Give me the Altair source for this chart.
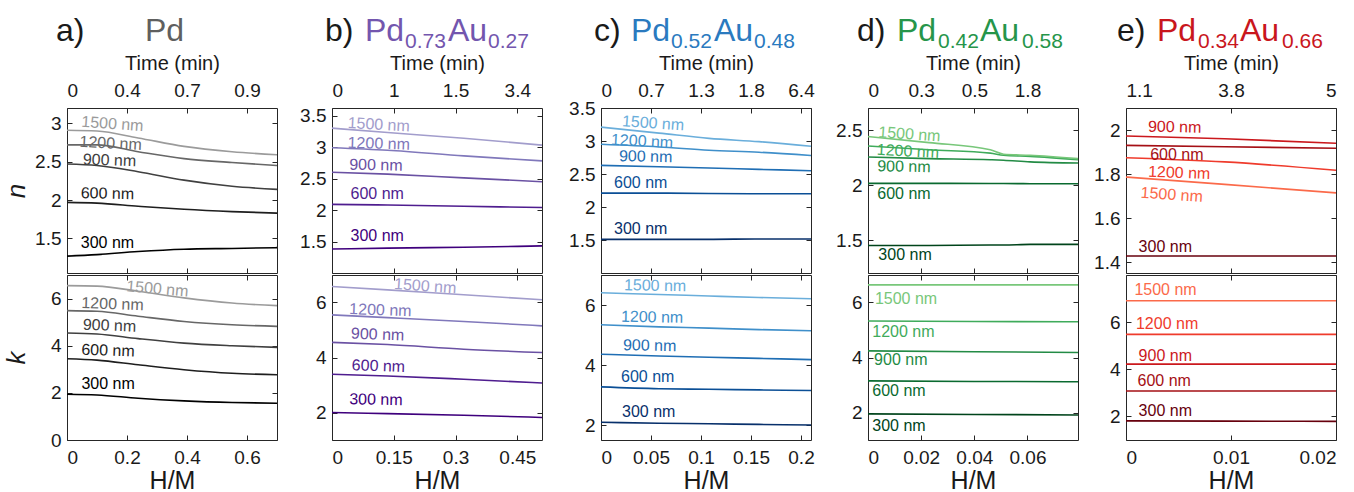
import json
import altair as alt
import pandas as pd

FONT = "Liberation Sans"
INK = "#1a1a1a"
WAVELENGTHS = ["300 nm", "600 nm", "900 nm", "1200 nm", "1500 nm"]
PANELS = ["a", "b", "c", "d", "e"]

# ---------------- a) Pd ----------------
a_hm_n = [0.0, 0.10, 0.237, 0.39, 0.55, 0.70]
a_n = [
    [1.27, 1.29, 1.33, 1.36, 1.37, 1.38],
    [1.97, 1.96, 1.92, 1.88, 1.85, 1.83],
    [2.47, 2.45, 2.37, 2.26, 2.18, 2.14],
    [2.72, 2.72, 2.63, 2.54, 2.49, 2.45],
    [2.91, 2.90, 2.81, 2.70, 2.63, 2.59],
]
a_hm_k = [0.0, 0.10, 0.237, 0.39, 0.55, 0.70]
a_k = [
    [1.94, 1.91, 1.77, 1.66, 1.59, 1.56],
    [3.45, 3.39, 3.19, 2.98, 2.83, 2.77],
    [4.54, 4.50, 4.30, 4.11, 4.00, 3.93],
    [5.49, 5.46, 5.25, 5.03, 4.89, 4.82],
    [6.55, 6.53, 6.31, 6.03, 5.81, 5.70],
]
a_lbl_n_x = [0.046, 0.046, 0.053, 0.042, 0.048]
a_lbl_n_y = [1.44, 2.09, 2.53, 2.76, 3.02]
a_lbl_k_x = [0.048, 0.048, 0.053, 0.048, 0.198]
a_lbl_k_y = [2.37, 3.83, 4.89, 5.81, 6.52]
a_xticks = [0, 0.2, 0.4, 0.6]
a_time = ["0", "0.4", "0.7", "0.9"]
a_nticks = [1.5, 2, 2.5, 3]
a_kticks = [0, 2, 4, 6]
a_xdom = [0, 0.7]
a_ndom = [1.05, 3.2]
a_kdom = [0, 7]

# ---------------- b) Pd0.73Au0.27 ----------------
b_hm_n = [0.0, 0.135, 0.32, 0.51]
b_n = [
    [1.38, 1.395, 1.41, 1.43],
    [2.09, 2.08, 2.06, 2.04],
    [2.60, 2.57, 2.51, 2.45],
    [2.99, 2.95, 2.86, 2.78],
    [3.30, 3.23, 3.14, 3.03],
]
b_hm_k = [0.0, 0.135, 0.32, 0.51]
b_k = [
    [2.00, 1.96, 1.90, 1.82],
    [3.39, 3.33, 3.21, 3.07],
    [4.55, 4.47, 4.30, 4.18],
    [5.55, 5.45, 5.31, 5.15],
    [6.58, 6.46, 6.28, 6.10],
]
b_lbl_n_x = [0.045, 0.045, 0.042, 0.038, 0.038]
b_lbl_n_y = [1.58, 2.26, 2.72, 3.07, 3.38]
b_lbl_k_x = [0.042, 0.048, 0.046, 0.042, 0.151]
b_lbl_k_y = [2.48, 3.72, 4.87, 5.76, 6.67]
b_xticks = [0, 0.15, 0.3, 0.45]
b_time = ["0", "1", "1.5", "3.4"]
b_nticks = [1.5, 2, 2.5, 3, 3.5]
b_kticks = [2, 4, 6]
b_xdom = [0, 0.51]
b_ndom = [1.0, 3.62]
b_kdom = [1, 7]

# ---------------- c) Pd0.52Au0.48 ----------------
c_hm_n = [0.0, 0.058, 0.108, 0.158, 0.21]
c_n = [
    [1.51, 1.51, 1.51, 1.515, 1.515],
    [2.21, 2.21, 2.205, 2.20, 2.20],
    [2.63, 2.61, 2.59, 2.57, 2.55],
    [2.95, 2.91, 2.86, 2.83, 2.78],
    [3.21, 3.12, 3.04, 2.99, 2.92],
]
c_hm_k = [0.0, 0.058, 0.108, 0.158, 0.21]
c_k = [
    [2.09, 2.06, 2.04, 2.02, 2.00],
    [3.27, 3.21, 3.19, 3.17, 3.15],
    [4.36, 4.30, 4.26, 4.22, 4.18],
    [5.34, 5.27, 5.23, 5.18, 5.14],
    [6.41, 6.35, 6.30, 6.25, 6.21],
]
c_lbl_n_x = [0.013, 0.013, 0.018, 0.010, 0.021]
c_lbl_n_y = [1.66, 2.37, 2.77, 3.02, 3.30]
c_lbl_k_x = [0.021, 0.020, 0.022, 0.020, 0.023]
c_lbl_k_y = [2.44, 3.61, 4.66, 5.61, 6.66]
c_xticks = [0, 0.05, 0.1, 0.15, 0.2]
c_time = ["0", "0.7", "1.3", "1.8", "6.4"]
c_nticks = [1.5, 2, 2.5, 3, 3.5]
c_kticks = [2, 4, 6]
c_xdom = [0, 0.21]
c_ndom = [1.0, 3.5]
c_kdom = [1.5, 7]

# ---------------- d) Pd0.42Au0.58 ----------------
d_hm_n = [0.0, 0.023, 0.046, 0.051, 0.061, 0.079]
d_n = [
    [1.45, 1.45, 1.455, 1.455, 1.46, 1.46],
    [2.015, 2.015, 2.013, 2.013, 2.012, 2.012],
    [2.255, 2.24, 2.23, 2.225, 2.21, 2.20],
    [2.355, 2.32, 2.29, 2.27, 2.26, 2.23],
    [2.44, 2.385, 2.32, 2.28, 2.27, 2.24],
]
d_hm_k = [0.0, 0.04, 0.079]
d_k = [
    [1.95, 1.93, 1.91],
    [3.15, 3.13, 3.12],
    [4.24, 4.21, 4.18],
    [5.33, 5.31, 5.30],
    [6.64, 6.64, 6.64],
]
d_lbl_n_x = [0.0039, 0.0035, 0.0035, 0.0033, 0.0039]
d_lbl_n_y = [1.36, 1.92, 2.17, 2.32, 2.48]
d_lbl_k_x = [0.0016, 0.0016, 0.0023, 0.0016, 0.0026]
d_lbl_k_y = [1.50, 2.79, 3.90, 4.94, 6.12]
d_xticks = [0, 0.02, 0.04, 0.06]
d_time = ["0", "0.3", "0.5", "1.8"]
d_nticks = [1.5, 2, 2.5]
d_kticks = [2, 4, 6]
d_xdom = [0, 0.079]
d_ndom = [1.2, 2.7]
d_kdom = [1, 7]

# ---------------- e) Pd0.34Au0.66 ----------------
e_hm_n = [0.0, 0.0094, 0.02]
e_n = [
    [1.427, 1.427, 1.427],
    [1.930, 1.924, 1.917],
    [1.973, 1.960, 1.940],
    [1.874, 1.855, 1.817],
    [1.786, 1.753, 1.714],
]
e_hm_k = [0.0, 0.0094, 0.02]
e_k = [
    [1.81, 1.80, 1.79],
    [3.08, 3.08, 3.08],
    [4.22, 4.22, 4.22],
    [5.48, 5.48, 5.48],
    [6.91, 6.91, 6.91],
]
e_lbl_n_x = [0.0012, 0.0023, 0.0021, 0.0021, 0.0014]
e_lbl_n_y = [1.468, 1.885, 2.015, 1.81, 1.715]
e_lbl_k_x = [0.0012, 0.0011, 0.0012, 0.00095, 0.0008]
e_lbl_k_y = [2.22, 3.49, 4.57, 5.91, 7.35]
e_xticks = [0, 0.01, 0.02]
e_time = ["1.1", "3.8", "5"]
e_nticks = [1.4, 1.6, 1.8, 2]
e_kticks = [2, 4, 6]
e_xdom = [0, 0.02]
e_ndom = [1.35, 2.1]
e_kdom = [1, 8]

# ---------------- styles ----------------
LINE_COLORS = {
    "a": ["#000000", "#1e1e1e", "#404040", "#676767", "#9b9b9b"],
    "b": ["#3f007d", "#4f1d8f", "#6a51a3", "#8078bb", "#a29dcc"],
    "c": ["#08306b", "#0b4f96", "#1f6eb4", "#3f8fca", "#6aaedb"],
    "d": ["#00441b", "#0a6a30", "#238b45", "#3fab5b", "#78c77a"],
    "e": ["#67000d", "#a50f15", "#cb181d", "#ef3b2c", "#fb6a4a"],
}
# slight tilt of the curve labels (degrees), 300 ... 1500 nm
LABEL_ANGLES = {
    ("a", "n"): [0, 1, 2, 3, 4], ("a", "k"): [0, 2, 2, 2, 5],
    ("b", "n"): [0, 0, 1, 2, 3], ("b", "k"): [1, 2, 2, 2, 4],
    ("c", "n"): [0, 0, 1, 3, 4], ("c", "k"): [0, 0, 1, 1, 1],
    ("d", "n"): [0, 0, 1, 3, 4], ("d", "k"): [0, 0, 0, 0, 0],
    ("e", "n"): [0, 0, 1, 2, 4], ("e", "k"): [0, 0, 0, 0, 0],
}
TITLE_COLORS = {"a": "#5f5f5f", "b": "#7356ae", "c": "#2a7abf", "d": "#26954a", "e": "#c9161d"}
TITLE_PARTS = {
    "a": [("a)", -11, False, INK), ("Pd", 78, False, None)],
    "b": [("b)", -7, False, INK), ("Pd", 33, False, None), ("0.73", 73, True, None),
          ("Au", 116, False, None), ("0.27", 156, True, None)],
    "c": [("c)", -7, False, INK), ("Pd", 30, False, None), ("0.52", 70, True, None),
          ("Au", 113, False, None), ("0.48", 153, True, None)],
    "d": [("d)", -11, False, INK), ("Pd", 29, False, None), ("0.42", 70, True, None),
          ("Au", 112, False, None), ("0.58", 154, True, None)],
    "e": [("e)", -9, False, INK), ("Pd", 31, False, None), ("0.34", 72, True, None),
          ("Au", 114, False, None), ("0.66", 156, True, None)],
}
EXTENT = {"a": 33, "b": 45.5, "c": 49.5, "d": 47.5, "e": 38.5}
W, H = 210, 165

ALL_KEYS = [p + w for p in PANELS for w in WAVELENGTHS]
ALL_COLORS = [c for p in PANELS for c in LINE_COLORS[p]]
COLOR_SCALE = alt.Scale(domain=ALL_KEYS, range=ALL_COLORS)
ONE = pd.DataFrame({"d": [0]})
NUM_LABEL = "'' + datum.value"

G = globals()


def line_df(p, q):
    hm = G[f"{p}_hm_{q}"]
    series = G[f"{p}_{q}"]
    rows = []
    for wl, vals in zip(WAVELENGTHS, series):
        for x, v in zip(hm, vals):
            rows.append({"hm": x, "val": v, "key": p + wl})
    return pd.DataFrame(rows)


def label_df(p, q):
    return pd.DataFrame({
        "hm": G[f"{p}_lbl_{q}_x"],
        "val": G[f"{p}_lbl_{q}_y"],
        "label": WAVELENGTHS,
        "key": [p + w for w in WAVELENGTHS],
        "ang": LABEL_ANGLES[(p, q)],
    })


def tick_axis(orient, values):
    return alt.Axis(orient=orient, values=values, labels=False, domain=False, grid=False,
                    ticks=True, tickSize=5, offset=-5, tickColor="#262626", tickWidth=1,
                    title=None, minExtent=0, maxExtent=0, titlePadding=0)


def sub_chart(p, q):
    xs = alt.Scale(domain=G[f"{p}_xdom"], nice=False, zero=False)
    ys = alt.Scale(domain=G[f"{p}_{q}dom"], nice=False, zero=False)
    xticks = G[f"{p}_xticks"]
    yticks = G[f"{p}_{q}ticks"]
    ldf = line_df(p, q)
    tdf = label_df(p, q)

    if q == "n":
        expr = f"{json.dumps(G[p + '_time'])}[indexof({json.dumps(xticks)}, datum.value)]"
        xaxis = alt.Axis(orient="top", values=xticks, labelExpr=expr, title="Time (min)",
                         ticks=False, tickSize=0, domain=False, grid=False, labelPadding=8,
                         titlePadding=8, labelFontSize=19, titleFontSize=20,
                         titleFontWeight="normal", labelColor=INK, titleColor=INK)
    else:
        xaxis = alt.Axis(orient="bottom", values=xticks, labelExpr=NUM_LABEL, title="H/M",
                         ticks=False, tickSize=0, domain=False, grid=False, labelPadding=8,
                         titlePadding=1, labelFontSize=19, titleFontSize=25,
                         titleFontWeight="normal", labelColor=INK, titleColor=INK)
    ykw = dict(orient="left", values=yticks, labelExpr=NUM_LABEL, ticks=False, tickSize=0,
               domain=False, grid=False, labelPadding=6, labelFontSize=19,
               labelColor=INK, minExtent=EXTENT[p], maxExtent=EXTENT[p])
    if p == "a":
        ykw.update(title=q, titleFontStyle="italic", titleFontSize=26,
                   titleFontWeight="normal", titlePadding=5, titleColor=INK)
    else:
        ykw.update(title=None, titlePadding=0)

    lines = alt.Chart(ldf).mark_line(strokeWidth=1.6, interpolate="monotone").encode(
        x=alt.X("hm:Q", scale=xs, axis=xaxis),
        y=alt.Y("val:Q", scale=ys, axis=alt.Axis(**ykw)),
        color=alt.Color("key:N", scale=COLOR_SCALE, legend=None),
    )
    texts = alt.Chart(tdf).mark_text(align="left", baseline="middle", fontSize=16, font=FONT).encode(
        x=alt.X("hm:Q", scale=xs, axis=None),
        y=alt.Y("val:Q", scale=ys, axis=None),
        text="label:N",
        angle=alt.Angle("ang:Q", scale=None),
        color=alt.Color("key:N", scale=COLOR_SCALE, legend=None),
    )
    ticks1 = alt.Chart(ldf).mark_point(opacity=0).encode(
        x=alt.X("hm:Q", scale=xs, axis=tick_axis("top", xticks)),
        y=alt.Y("val:Q", scale=ys, axis=tick_axis("left", yticks)),
    )
    ticks2 = alt.Chart(ldf).mark_point(opacity=0).encode(
        x=alt.X("hm:Q", scale=xs, axis=tick_axis("bottom", xticks)),
        y=alt.Y("val:Q", scale=ys, axis=tick_axis("right", yticks)),
    )
    layers = [lines, texts, ticks1, ticks2]
    if q == "n":
        for txt, dx, sub, col in TITLE_PARTS[p]:
            layers.append(
                alt.Chart(ONE).mark_text(
                    text=txt, align="left", baseline="alphabetic",
                    fontSize=21 if sub else 32, font=FONT,
                    color=col if col else TITLE_COLORS[p],
                ).encode(x=alt.value(dx), y=alt.value(-60 if sub else -67))
            )
    return alt.layer(*layers).resolve_axis(x="independent", y="independent").properties(width=W, height=H)


cols = [alt.vconcat(sub_chart(p, "n"), sub_chart(p, "k"), spacing=0) for p in PANELS]

chart = alt.hconcat(*cols, spacing=5).properties(
    padding={"left": 2, "top": 14, "right": 0, "bottom": 0},
    background="white",
).configure_view(stroke="#262626", strokeWidth=1).configure_axis(
    labelFont=FONT, titleFont=FONT
).configure_text(font=FONT)

chart.save("out.html", embed_options={"renderer": "svg", "actions": False})
